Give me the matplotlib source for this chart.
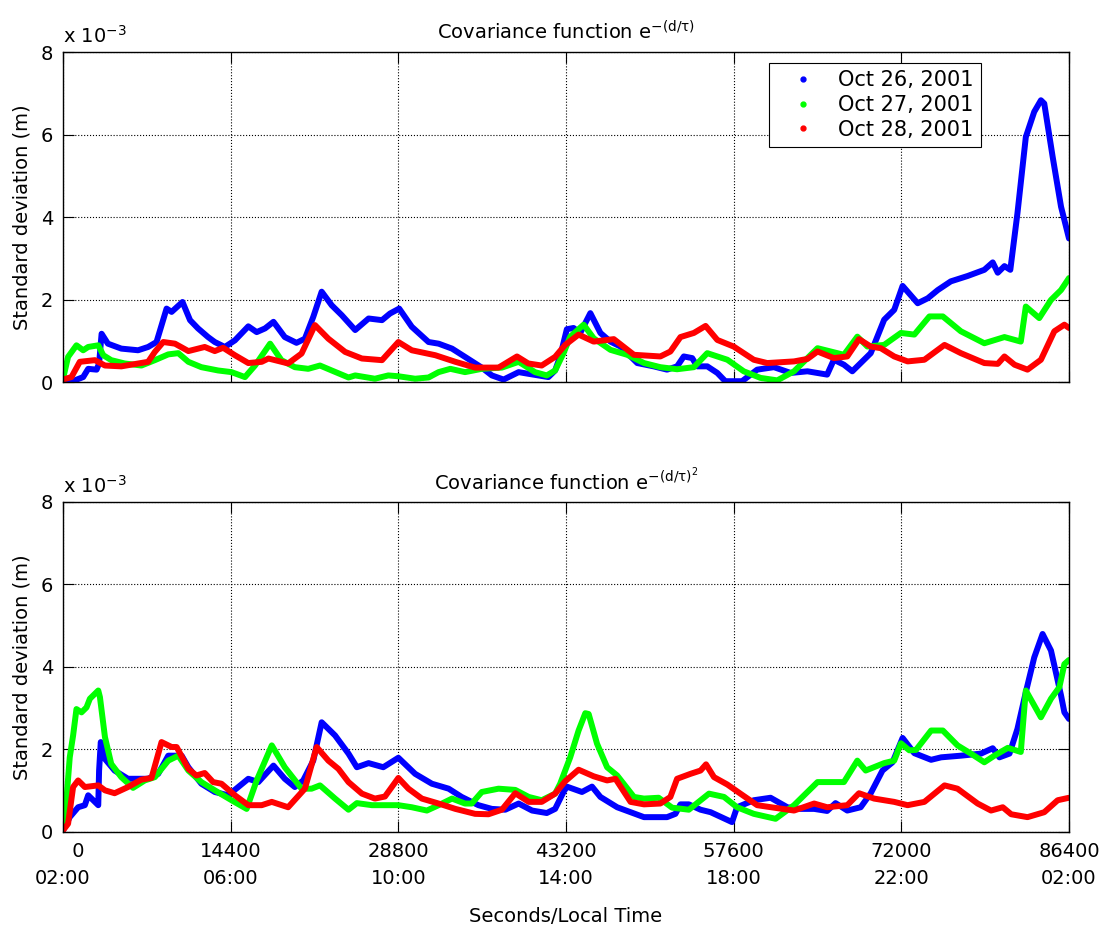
import numpy as np
import matplotlib
matplotlib.use("Agg")
import matplotlib.pyplot as plt
from matplotlib.lines import Line2D

plt.rcParams["font.family"] = ["DejaVu Sans"]
plt.rcParams["mathtext.default"] = "regular"

# series labels and colours
series_labels = ["Oct 26, 2001", "Oct 27, 2001", "Oct 28, 2001"]
series_colors = ["#0000ff", "#00ff00", "#ff0000"]

# x tick labels (seconds since 02:00 local / local time)
sec_labels = ["0", "14400", "28800", "43200", "57600", "72000", "86400"]
time_labels = ["02:00", "06:00", "10:00", "14:00", "18:00", "22:00", "02:00"]
x_ticks = [0, 14400, 28800, 43200, 57600, 72000, 86400]
y_ticks = [0, 2e-3, 4e-3, 6e-3, 8e-3]
y_tick_labels = ["0", "2", "4", "6", "8"]

# ---- top panel: exp(-(d/tau)) -- hours since 02:00, std dev in 1e-3 m
top_oct26_h = [0, 0.28, 0.48, 0.6, 0.8, 0.86, 0.92, 1.07, 1.39, 1.79, 2.03, 2.23, 2.47, 2.59, 2.85,
               3.03, 3.22, 3.46, 3.62, 3.86, 4.1, 4.42, 4.62, 4.82, 5.02, 5.29, 5.57, 5.77, 5.97,
               6.17, 6.41, 6.65, 6.97, 7.29, 7.61, 7.80, 8.02, 8.32, 8.72, 8.96, 9.28, 9.59, 9.99,
               10.23, 10.51, 10.87, 11.1, 11.58, 11.74, 11.86, 12.02, 12.18, 12.34, 12.58, 12.66,
               12.82, 13.06, 13.3, 13.7, 14.09, 14.41, 14.65, 14.81, 15.01, 15.13, 15.37, 15.61,
               15.8, 16.2, 16.56, 16.96, 17.36, 17.76, 18.23, 18.39, 18.63, 18.83, 19.03, 19.27,
               19.59, 19.83, 20.03, 20.39, 20.63, 20.87, 21.18, 21.58, 21.98, 22.18, 22.3, 22.46,
               22.6, 22.77, 22.97, 23.17, 23.33, 23.41, 23.61, 23.81, 24.0]
top_oct26_v = [0.04, 0.04, 0.12, 0.32, 0.30, 0.45, 1.17, 0.93, 0.81, 0.77, 0.85, 0.97, 1.78, 1.70, 1.94,
               1.50, 1.30, 1.09, 0.97, 0.85, 1.01, 1.35, 1.21, 1.30, 1.46, 1.09, 0.95, 1.05, 1.58,
               2.19, 1.86, 1.62, 1.26, 1.54, 1.50, 1.66, 1.78, 1.34, 0.97, 0.93, 0.81, 0.61, 0.35,
               0.16, 0.06, 0.24, 0.20, 0.12, 0.28, 0.62, 1.28, 1.31, 1.19, 1.67, 1.51,
               1.19, 0.98, 0.86, 0.46, 0.38, 0.30, 0.38, 0.62, 0.58, 0.38, 0.38, 0.22,
               0.02, 0.02, 0.30, 0.36, 0.22, 0.26, 0.18, 0.54, 0.42, 0.26, 0.46, 0.70,
               1.51, 1.75, 2.33, 1.91, 2.03, 2.23, 2.44, 2.57, 2.72, 2.90, 2.65, 2.81,
               2.72, 4.09, 5.94, 6.55, 6.83, 6.75, 5.46, 4.25, 3.48]

top_oct27_h = [0, 0.12, 0.32, 0.48, 0.6, 0.84, 0.96, 1.15, 1.47, 1.87, 2.19, 2.51, 2.75, 2.99, 3.30,
               3.70, 4.02, 4.34, 4.58, 4.94, 5.21, 5.53, 5.85, 6.13, 6.41, 6.81, 6.97, 7.44, 7.76,
               8.0, 8.4, 8.72, 8.96, 9.24, 9.59, 9.99, 10.47, 10.87, 11.26, 11.54, 11.74, 11.94,
               12.1, 12.42, 12.66, 13.06, 13.46, 13.86, 14.25, 14.65, 15.05, 15.37, 15.85, 16.24,
               16.64, 17.04, 17.44, 18.0, 18.63, 18.95, 19.19, 19.59, 19.99, 20.31, 20.67, 20.99,
               21.42, 21.98, 22.46, 22.85, 22.97, 23.29, 23.57, 23.81, 24.0]
top_oct27_v = [0.08, 0.61, 0.89, 0.77, 0.85, 0.89, 0.65, 0.53, 0.45, 0.40, 0.53, 0.67, 0.70, 0.49, 0.36,
               0.28, 0.24, 0.12, 0.40, 0.93, 0.53, 0.36, 0.32, 0.40, 0.28, 0.11, 0.16, 0.08, 0.16,
               0.14, 0.08, 0.11, 0.24, 0.32, 0.24, 0.32, 0.35, 0.49, 0.24, 0.16, 0.28, 0.70,
               1.10, 1.39, 1.06, 0.78, 0.66, 0.46, 0.36, 0.31, 0.36, 0.70, 0.54, 0.26,
               0.10, 0.04, 0.26, 0.82, 0.66, 1.10, 0.86, 0.90, 1.19, 1.15, 1.59, 1.59,
               1.23, 0.94, 1.09, 0.98, 1.83, 1.55, 1.99, 2.23, 2.52]

top_oct28_h = [0, 0.2, 0.4, 0.76, 1.0, 1.39, 2.03, 2.19, 2.39, 2.67, 2.99, 3.38, 3.62, 3.82, 4.1,
               4.42, 4.74, 4.9, 5.37, 5.69, 6.01, 6.33, 6.73, 7.13, 7.61, 8.0, 8.32, 8.88, 9.36,
               9.83, 10.39, 10.83, 11.1, 11.42, 11.74, 11.98, 12.3, 12.66, 13.14, 13.62, 14.25,
               14.49, 14.73, 15.05, 15.33, 15.61, 16.0, 16.48, 16.8, 17.44, 17.76, 18.0, 18.39,
               18.71, 18.99, 19.27, 19.51, 19.83, 20.15, 20.55, 21.03, 21.42, 21.98, 22.3, 22.46,
               22.7, 23.01, 23.33, 23.65, 23.89, 24.0]
top_oct28_v = [0.06, 0.12, 0.49, 0.53, 0.40, 0.38, 0.49, 0.73, 0.97, 0.93, 0.75, 0.85, 0.75, 0.83, 0.65,
               0.46, 0.49, 0.57, 0.45, 0.69, 1.38, 1.05, 0.73, 0.57, 0.53, 0.97, 0.77, 0.65, 0.49,
               0.35, 0.35, 0.62, 0.45, 0.40, 0.61, 0.90, 1.15, 0.98, 1.04, 0.66, 0.62,
               0.74, 1.09, 1.19, 1.36, 1.02, 0.86, 0.54, 0.46, 0.50, 0.56, 0.74, 0.58,
               0.62, 1.04, 0.86, 0.82, 0.62, 0.50, 0.54, 0.90, 0.70, 0.46, 0.44, 0.62,
               0.42, 0.30, 0.54, 1.23, 1.39, 1.31]

# ---- bottom panel: exp(-(d/tau)^2)
bot_oct26_h = [0, 0.16, 0.36, 0.52, 0.6, 0.72, 0.84, 0.86, 0.9, 1.0, 1.23, 1.55, 2.03, 2.27, 2.51,
               2.83, 2.99, 3.30, 3.62, 3.94, 4.18, 4.42, 4.66, 5.02, 5.29, 5.53, 5.73, 5.97, 6.17,
               6.49, 6.81, 7.01, 7.29, 7.64, 8.0, 8.40, 8.8, 9.2, 9.51, 9.91, 10.23, 10.55, 10.87,
               11.19, 11.54, 11.74, 11.94, 12.02, 12.38, 12.62, 12.82, 13.22, 13.54, 13.86, 14.41,
               14.61, 14.73, 14.93, 15.21, 15.45, 15.96, 16.08, 16.48, 16.88, 17.28, 17.6, 17.92,
               18.23, 18.43, 18.71, 19.03, 19.27, 19.55, 19.79, 20.03, 20.31, 20.71, 20.95, 21.42,
               21.9, 22.18, 22.34, 22.58, 22.77, 22.97, 23.17, 23.37, 23.57, 23.81, 23.89, 24.0]
bot_oct26_v = [0.04, 0.36, 0.60, 0.65, 0.89, 0.77, 0.65, 1.49, 2.18, 1.77, 1.49, 1.29, 1.29, 1.41, 1.85,
               1.85, 1.57, 1.17, 0.97, 0.89, 1.09, 1.29, 1.21, 1.61, 1.29, 1.09, 1.25, 1.73, 2.66,
               2.34, 1.90, 1.57, 1.67, 1.57, 1.80, 1.41, 1.17, 1.05, 0.85, 0.65, 0.56, 0.54, 0.69,
               0.52, 0.46, 0.56, 0.97, 1.10, 0.97, 1.10, 0.85, 0.60, 0.48, 0.36, 0.36,
               0.44, 0.67, 0.67, 0.54, 0.48, 0.24, 0.60, 0.77, 0.83, 0.60, 0.56, 0.56,
               0.51, 0.70, 0.52, 0.60, 0.94, 1.49, 1.69, 2.28, 1.91, 1.75, 1.81, 1.85,
               1.90, 2.03, 1.81, 1.90, 2.50, 3.39, 4.23, 4.80, 4.40, 3.31, 2.90, 2.74]

bot_oct27_h = [0, 0.08, 0.16, 0.24, 0.32, 0.44, 0.56, 0.64, 0.84, 0.88, 1.0, 1.15, 1.39, 1.67, 1.95,
               2.19, 2.51, 2.75, 2.99, 3.30, 3.62, 4.02, 4.38, 4.62, 4.98, 5.29, 5.69, 5.93, 6.13,
               6.49, 6.81, 7.01, 7.37, 8.0, 8.32, 8.68, 8.96, 9.28, 9.59, 9.75, 9.99, 10.39, 10.79,
               11.11, 11.42, 11.74, 11.86, 12.1, 12.3, 12.46, 12.54, 12.74, 12.98, 13.22, 13.62,
               13.86, 14.21, 14.53, 14.93, 15.41, 15.77, 16.08, 16.48, 17.0, 17.44, 18.0, 18.63,
               18.95, 19.15, 19.59, 19.83, 19.99, 20.19, 20.35, 20.71, 20.99, 21.34, 21.66, 21.98,
               22.22, 22.54, 22.85, 22.91, 22.97, 23.33, 23.57, 23.77, 23.89, 24.0]
bot_oct27_v = [0.12, 0.77, 1.81, 2.34, 2.98, 2.90, 3.02, 3.23, 3.43, 3.27, 2.30, 1.65, 1.33, 1.07, 1.25,
               1.33, 1.73, 1.85, 1.49, 1.21, 1.01, 0.77, 0.56, 1.25, 2.10, 1.57, 1.05, 1.05, 1.13,
               0.81, 0.54, 0.70, 0.65, 0.65, 0.60, 0.52, 0.65, 0.81, 0.69, 0.69, 0.97, 1.05, 1.02,
               0.85, 0.77, 0.93, 1.17, 1.81, 2.46, 2.88, 2.86, 2.14, 1.57, 1.37, 0.85,
               0.81, 0.83, 0.59, 0.54, 0.93, 0.85, 0.60, 0.44, 0.32, 0.65, 1.21, 1.21,
               1.73, 1.49, 1.67, 1.73, 2.15, 1.98, 1.99, 2.46, 2.46, 2.10, 1.90, 1.69,
               1.85, 2.04, 1.94, 2.70, 3.43, 2.78, 3.23, 3.51, 4.07, 4.17]

bot_oct28_h = [0, 0.12, 0.24, 0.36, 0.52, 0.84, 1.0, 1.23, 1.55, 1.87, 2.11, 2.35, 2.59, 2.71, 2.99,
               3.18, 3.38, 3.58, 3.78, 4.10, 4.42, 4.74, 4.98, 5.37, 5.77, 6.05, 6.33, 6.57, 6.81,
               7.13, 7.44, 7.68, 8.0, 8.24, 8.56, 8.96, 9.36, 9.83, 10.15, 10.47, 10.79, 11.11,
               11.42, 11.74, 11.98, 12.3, 12.66, 12.98, 13.18, 13.54, 13.86, 14.25, 14.49, 14.65,
               14.97, 15.21, 15.34, 15.53, 15.85, 16.16, 16.56, 16.96, 17.44, 17.92, 18.23, 18.71,
               18.99, 19.35, 19.83, 20.15, 20.55, 21.03, 21.34, 21.82, 22.14, 22.42, 22.62, 23.01,
               23.41, 23.73, 24.0]
bot_oct28_v = [0.04, 0.20, 1.09, 1.25, 1.09, 1.13, 1.01, 0.94, 1.09, 1.27, 1.31, 2.18, 2.06, 2.06, 1.53,
               1.37, 1.43, 1.21, 1.17, 0.89, 0.65, 0.65, 0.73, 0.60, 1.05, 2.06, 1.73, 1.53, 1.21,
               0.93, 0.81, 0.86, 1.31, 1.05, 0.81, 0.69, 0.56, 0.44, 0.43, 0.54, 0.94, 0.73,
               0.73, 0.93, 1.23, 1.51, 1.35, 1.25, 1.29, 0.73, 0.67, 0.69, 0.85, 1.29,
               1.41, 1.49, 1.64, 1.33, 1.15, 0.93, 0.65, 0.59, 0.52, 0.69, 0.60, 0.65,
               0.94, 0.81, 0.73, 0.65, 0.73, 1.13, 1.05, 0.69, 0.52, 0.60, 0.43, 0.36,
               0.48, 0.77, 0.83]

panels = [
    ("Covariance function e$^{-(d/\\tau)}$",
     [(top_oct26_h, top_oct26_v), (top_oct27_h, top_oct27_v), (top_oct28_h, top_oct28_v)]),
    ("Covariance function e$^{-(d/\\tau)^2}$",
     [(bot_oct26_h, bot_oct26_v), (bot_oct27_h, bot_oct27_v), (bot_oct28_h, bot_oct28_v)]),
]

fig = plt.figure(figsize=(11.08, 9.32), dpi=100)
ax_top = fig.add_axes([0.0569, 0.5901, 0.9079, 0.3541])
ax_bot = fig.add_axes([0.0569, 0.1073, 0.9079, 0.3541])

for ax, (title, series) in zip([ax_top, ax_bot], panels):
    for (hrs, vals), col in zip(series, series_colors):
        # hours -> seconds, 1e-3 m -> m
        ax.plot(np.array(hrs) * 3600, np.array(vals) * 1e-3, "-", color=col, lw=4.3,
                solid_joinstyle="round", solid_capstyle="round")
    ax.set_xlim(0, 86400)
    ax.set_ylim(0, 8e-3)
    ax.set_xticks(x_ticks)
    ax.set_yticks(y_ticks)
    ax.set_yticklabels(y_tick_labels)
    ax.tick_params(direction="in", length=8, width=0.8, top=True, right=True,
                   labelsize=14, pad=7)
    ax.grid(True, linestyle=":", color="k", linewidth=0.8)
    for sp in ax.spines.values():
        sp.set_linewidth(1.0)
    ax.set_title(title, fontsize=14, pad=9)
    ax.set_ylabel("Standard deviation (m)", fontsize=14)
    ax.yaxis.set_label_coords(-0.031, 0.5)
    ax.text(0.0, 1.027, "x 10$^{-3}$", transform=ax.transAxes, fontsize=14,
            ha="left", va="baseline")

ax_top.set_xticklabels([])
xlabels = [f"{s}\n{t}" for s, t in zip(sec_labels, time_labels)]
xlabels[0] = "     " + sec_labels[0] + "\n" + time_labels[0]
ax_bot.set_xticklabels(xlabels, linespacing=1.55)

fig.text(566 / 1108, 1 - 917 / 932, "Seconds/Local Time", fontsize=14,
         ha="center", va="center")

handles = [Line2D([], [], color=c, marker=".", linestyle="none", markersize=7)
           for c in series_colors]
leg = ax_top.legend(handles, series_labels, loc="upper right",
                    bbox_to_anchor=(0.9125, 0.967), fontsize=15, frameon=True,
                    fancybox=False, framealpha=1, edgecolor="k", borderpad=0.35,
                    labelspacing=0.23, handlelength=2.57, handletextpad=0.4,
                    borderaxespad=0)
leg.get_frame().set_linewidth(0.8)

fig.savefig("out.png", dpi=100, facecolor="white")
